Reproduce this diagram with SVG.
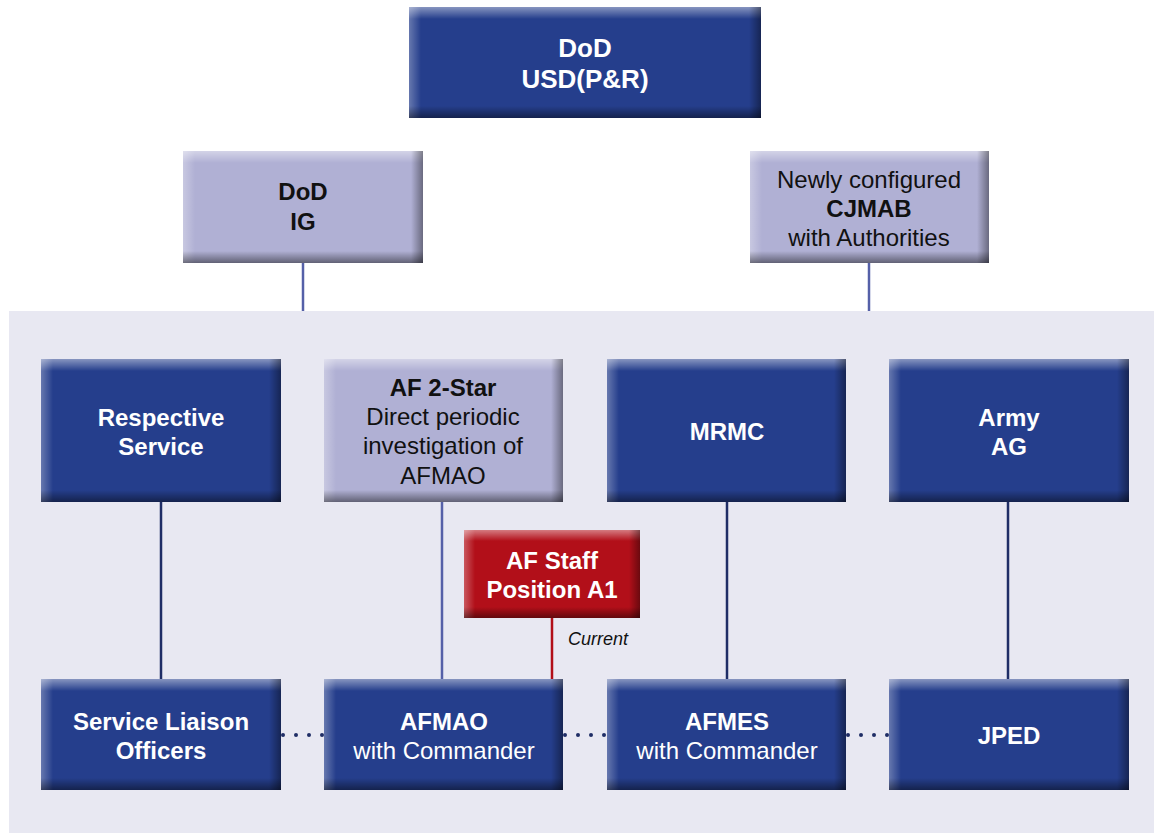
<svg xmlns="http://www.w3.org/2000/svg" width="1154" height="833" viewBox="0 0 1154 833">
<defs>
<linearGradient id="gT" x1="0" y1="0" x2="0" y2="1"><stop offset="0" stop-color="#fff" stop-opacity="0.45"/><stop offset="1" stop-color="#fff" stop-opacity="0"/></linearGradient>
<linearGradient id="gL" x1="0" y1="0" x2="1" y2="0"><stop offset="0" stop-color="#fff" stop-opacity="0.3"/><stop offset="1" stop-color="#fff" stop-opacity="0"/></linearGradient>
<linearGradient id="gR" x1="0" y1="0" x2="1" y2="0"><stop offset="0" stop-color="#000" stop-opacity="0"/><stop offset="1" stop-color="#000" stop-opacity="0.4"/></linearGradient>
<linearGradient id="gB" x1="0" y1="0" x2="0" y2="1"><stop offset="0" stop-color="#000" stop-opacity="0"/><stop offset="1" stop-color="#000" stop-opacity="0.45"/></linearGradient>
</defs>
<style>
.dark{fill:#253E8C}
.light{fill:#B0B0D4}
.red{fill:#B20F19}
.t{fill:url(#gT)} .l{fill:url(#gL)} .r{fill:url(#gR)} .b{fill:url(#gB)}
text{font-family:"Liberation Sans",Arial,sans-serif;font-size:24px;text-anchor:middle}
.w{fill:#fff}
.k{fill:#111}
.bold{font-weight:bold}
.big{font-size:26px}
.ln{stroke-width:2.5;fill:none}
.dot{fill:#1F2D66}
</style>
<rect x="9" y="311" width="1145" height="522" fill="#E8E8F2"/>
<g id="connectors">
<line class="ln" x1="303" y1="263" x2="303" y2="311" stroke="#5560A8"/>
<line class="ln" x1="869" y1="263" x2="869" y2="311" stroke="#5560A8"/>
<line class="ln" x1="161" y1="502" x2="161" y2="679" stroke="#1F2D66"/>
<line class="ln" x1="442" y1="502" x2="442" y2="679" stroke="#5560A8"/>
<line class="ln" x1="727" y1="502" x2="727" y2="679" stroke="#1F2D66"/>
<line class="ln" x1="1008" y1="502" x2="1008" y2="679" stroke="#1F2D66"/>
<line class="ln" x1="552" y1="618" x2="552" y2="679" stroke="#B20F19"/>
<text x="598" y="645" style="font-size:18px;font-style:italic" class="k">Current</text>
<g class="dot">
<circle cx="283" cy="735" r="2"/><circle cx="296" cy="735" r="2"/><circle cx="309" cy="735" r="2"/><circle cx="322" cy="735" r="2"/>
<circle cx="565" cy="735" r="2"/><circle cx="578" cy="735" r="2"/><circle cx="591" cy="735" r="2"/><circle cx="604" cy="735" r="2"/>
<circle cx="848" cy="735" r="2"/><circle cx="861" cy="735" r="2"/><circle cx="874" cy="735" r="2"/><circle cx="887" cy="735" r="2"/>
</g>
</g>
<g id="usd">
<rect class="dark" x="409" y="7" width="352" height="111"/>
<rect class="t" x="409" y="7" width="352" height="12"/><rect class="l" x="409" y="7" width="12" height="111"/><rect class="r" x="749" y="7" width="12" height="111"/><rect class="b" x="409" y="106" width="352" height="12"/>
<text class="w bold big" x="585" y="57">DoD</text><text class="w bold big" x="585" y="88">USD(P&amp;R)</text>
</g>
<g id="ig">
<rect class="light" x="183" y="151" width="240" height="112"/>
<rect class="t" x="183" y="151" width="240" height="12"/><rect class="l" x="183" y="151" width="12" height="112"/><rect class="r" x="411" y="151" width="12" height="112"/><rect class="b" x="183" y="251" width="240" height="12"/>
<text class="k bold" x="303" y="200">DoD</text><text class="k bold" x="303" y="230">IG</text>
</g>
<g id="cjmab">
<rect class="light" x="750" y="151" width="239" height="112"/>
<rect class="t" x="750" y="151" width="239" height="12"/><rect class="l" x="750" y="151" width="12" height="112"/><rect class="r" x="977" y="151" width="12" height="112"/><rect class="b" x="750" y="251" width="239" height="12"/>
<text class="k" x="869" y="188">Newly configured</text><text class="k bold" x="869" y="217">CJMAB</text><text class="k" x="869" y="246">with Authorities</text>
</g>
<g id="respective">
<rect class="dark" x="41" y="359" width="240" height="143"/>
<rect class="t" x="41" y="359" width="240" height="12"/><rect class="l" x="41" y="359" width="12" height="143"/><rect class="r" x="269" y="359" width="12" height="143"/><rect class="b" x="41" y="490" width="240" height="12"/>
<text class="w bold" x="161" y="426">Respective</text><text class="w bold" x="161" y="455">Service</text>
</g>
<g id="af2star">
<rect class="light" x="324" y="359" width="239" height="143"/>
<rect class="t" x="324" y="359" width="239" height="12"/><rect class="l" x="324" y="359" width="12" height="143"/><rect class="r" x="551" y="359" width="12" height="143"/><rect class="b" x="324" y="490" width="239" height="12"/>
<text class="k bold" x="443" y="396">AF 2-Star</text><text class="k" x="443" y="425">Direct periodic</text><text class="k" x="443" y="454">investigation of</text><text class="k" x="443" y="484">AFMAO</text>
</g>
<g id="mrmc">
<rect class="dark" x="607" y="359" width="239" height="143"/>
<rect class="t" x="607" y="359" width="239" height="12"/><rect class="l" x="607" y="359" width="12" height="143"/><rect class="r" x="834" y="359" width="12" height="143"/><rect class="b" x="607" y="490" width="239" height="12"/>
<text class="w bold" x="727" y="440">MRMC</text>
</g>
<g id="armyag">
<rect class="dark" x="889" y="359" width="240" height="143"/>
<rect class="t" x="889" y="359" width="240" height="12"/><rect class="l" x="889" y="359" width="12" height="143"/><rect class="r" x="1117" y="359" width="12" height="143"/><rect class="b" x="889" y="490" width="240" height="12"/>
<text class="w bold" x="1009" y="426">Army</text><text class="w bold" x="1009" y="455">AG</text>
</g>
<g id="afstaff">
<rect class="red" x="464" y="530" width="176" height="88"/>
<rect class="t" x="464" y="530" width="176" height="11"/><rect class="l" x="464" y="530" width="11" height="88"/><rect class="r" x="629" y="530" width="11" height="88"/><rect class="b" x="464" y="607" width="176" height="11"/>
<text class="w bold" x="552" y="569">AF Staff</text><text class="w bold" x="552" y="598">Position A1</text>
</g>
<g id="slo">
<rect class="dark" x="41" y="679" width="240" height="111"/>
<rect class="t" x="41" y="679" width="240" height="12"/><rect class="l" x="41" y="679" width="12" height="111"/><rect class="r" x="269" y="679" width="12" height="111"/><rect class="b" x="41" y="778" width="240" height="12"/>
<text class="w bold" x="161" y="730">Service Liaison</text><text class="w bold" x="161" y="759">Officers</text>
</g>
<g id="afmao">
<rect class="dark" x="324" y="679" width="239" height="111"/>
<rect class="t" x="324" y="679" width="239" height="12"/><rect class="l" x="324" y="679" width="12" height="111"/><rect class="r" x="551" y="679" width="12" height="111"/><rect class="b" x="324" y="778" width="239" height="12"/>
<text class="w bold" x="444" y="730">AFMAO</text><text class="w" x="444" y="759">with Commander</text>
</g>
<g id="afmes">
<rect class="dark" x="607" y="679" width="239" height="111"/>
<rect class="t" x="607" y="679" width="239" height="12"/><rect class="l" x="607" y="679" width="12" height="111"/><rect class="r" x="834" y="679" width="12" height="111"/><rect class="b" x="607" y="778" width="239" height="12"/>
<text class="w bold" x="727" y="730">AFMES</text><text class="w" x="727" y="759">with Commander</text>
</g>
<g id="jped">
<rect class="dark" x="889" y="679" width="240" height="111"/>
<rect class="t" x="889" y="679" width="240" height="12"/><rect class="l" x="889" y="679" width="12" height="111"/><rect class="r" x="1117" y="679" width="12" height="111"/><rect class="b" x="889" y="778" width="240" height="12"/>
<text class="w bold" x="1009" y="744">JPED</text>
</g>
</svg>
